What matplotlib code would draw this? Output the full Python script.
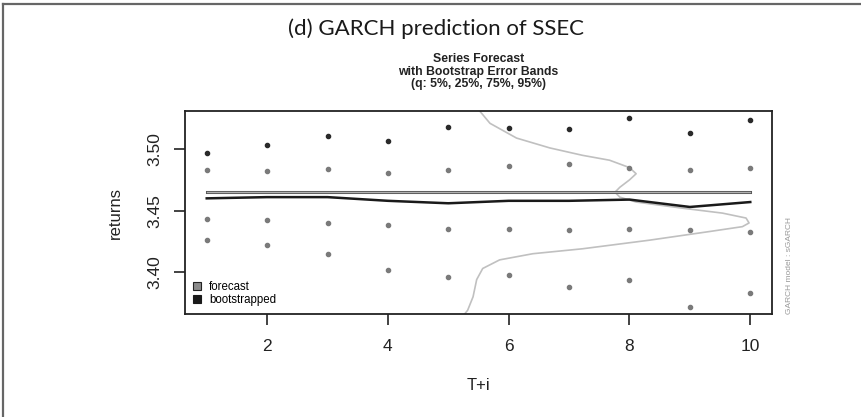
import matplotlib
matplotlib.use('Agg')
import matplotlib.pyplot as plt
import matplotlib.patheffects as pe
from matplotlib.patches import Patch
from matplotlib.lines import Line2D

# forecast horizon
horizon = [1, 2, 3, 4, 5, 6, 7, 8, 9, 10]

# bootstrap quantiles of the predicted returns
q95 = [3.497, 3.503, 3.511, 3.507, 3.518, 3.517, 3.516, 3.525, 3.513, 3.524]
q75 = [3.483, 3.482, 3.484, 3.481, 3.483, 3.486, 3.488, 3.485, 3.483, 3.485]
q25 = [3.443, 3.442, 3.440, 3.438, 3.435, 3.435, 3.434, 3.435, 3.434, 3.433]
q05 = [3.426, 3.422, 3.415, 3.402, 3.396, 3.398, 3.388, 3.394, 3.372, 3.383]

# point forecast and bootstrapped mean
forecast = [3.465] * 10
bootstrapped = [3.460, 3.461, 3.461, 3.458, 3.456, 3.458, 3.458, 3.459, 3.453, 3.457]

# density of the simulated returns, drawn sideways
dens_x = [5.52, 5.69, 6.13, 6.68, 7.22, 7.67, 8.00, 8.11, 8.00, 7.84, 7.76, 7.84,
          8.11, 8.88, 9.54, 9.93, 9.98, 9.87, 9.32, 8.33, 7.22, 6.40, 5.85, 5.57,
          5.47, 5.41, 5.32, 5.27]
dens_y = [3.531, 3.521, 3.509, 3.501, 3.495, 3.491, 3.485, 3.480, 3.475, 3.469,
          3.465, 3.461, 3.457, 3.452, 3.448, 3.444, 3.440, 3.437, 3.433, 3.426,
          3.419, 3.415, 3.410, 3.403, 3.394, 3.380, 3.369, 3.366]

yticks = [3.40, 3.45, 3.50]
xticks = [2, 4, 6, 8, 10]

plt.rcParams['font.family'] = ['Liberation Sans', 'DejaVu Sans']

fig = plt.figure(figsize=(8.62, 4.17), dpi=100)
ax = fig.add_axes([0.2146, 0.247, 0.681, 0.4868])

# outer panel frame (left and top edges)
fig.add_artist(Line2D([0.003, 0.003], [0.0, 0.991], color='#666666', lw=1.6,
                      transform=fig.transFigure))
fig.add_artist(Line2D([0.003, 1.0], [0.991, 0.991], color='#666666', lw=1.6,
                      transform=fig.transFigure))

ax.plot(dens_x, dens_y, color='#c0c0c0', lw=1.2, zorder=1)

ax.scatter(horizon, q95, s=9, color='#2a2a2a', zorder=3)
for q in (q75, q25, q05):
    ax.scatter(horizon, q, s=9, color='#7a7a7a', zorder=3)

ax.plot(horizon, forecast, color='#b0b0b0', lw=0.9, zorder=2,
        path_effects=[pe.Stroke(linewidth=2.2, foreground='#555555'), pe.Normal()])
ax.plot(horizon, bootstrapped, color='#1a1a1a', lw=1.8, zorder=2)

ax.set_xlim(0.64, 10.36)
ax.set_ylim(3.366, 3.531)
ax.set_xticks(xticks)
ax.set_yticks(yticks)
ax.set_yticklabels(['3.40', '3.45', '3.50'], rotation=90, va='center')
ax.tick_params(axis='both', length=8, width=1.2, labelsize=12.5, colors='#222222')
ax.tick_params(axis='x', pad=10)
ax.tick_params(axis='y', pad=8)
for s in ax.spines.values():
    s.set_linewidth(1.3)
    s.set_color('#222222')

ax.set_xlabel('T+i', fontsize=12, labelpad=17, color='#222222')
ax.set_ylabel('returns', fontsize=12, labelpad=18, color='#222222')

handles = [Patch(facecolor='#8a8a8a', edgecolor='#222222', lw=0.8),
           Patch(facecolor='#1a1a1a', edgecolor='#1a1a1a', lw=0.8)]
ax.legend(handles, ['forecast', 'bootstrapped'], loc='lower left', frameon=False,
          fontsize=8.3, handlelength=0.7, handleheight=0.7, handletextpad=0.7,
          labelspacing=0.1, borderaxespad=0.4, borderpad=0.3)

ax.text(1.03, 0.0, 'GARCH model : sGARCH', transform=ax.transAxes, rotation=90,
        ha='center', va='bottom', fontsize=6, color='#999999')

ax.set_title('Series Forecast\nwith Bootstrap Error Bands\n(q: 5%, 25%, 75%, 95%)',
             fontsize=8.8, fontweight='bold', linespacing=1.05, pad=17, color='#222222')

fig.text(0.5053, 0.930, '(d) GARCH prediction of SSEC', ha='center', va='center',
         fontsize=16, family=['Lato', 'DejaVu Sans'], color='#1a1a1a')

fig.savefig('out.png', dpi=100)
